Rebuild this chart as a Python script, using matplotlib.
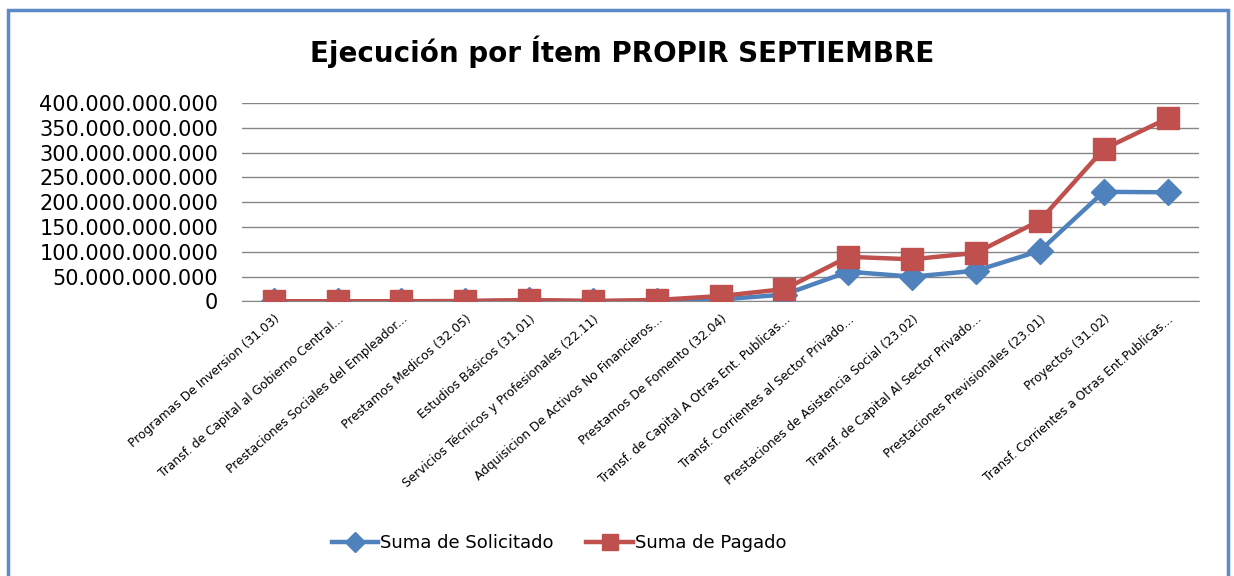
import numpy as np
import matplotlib.pyplot as plt
from matplotlib.lines import Line2D
from matplotlib.ticker import FuncFormatter

categorias = [
    "Programas De Inversion (31.03)",
    "Transf. de Capital al Gobierno Central...",
    "Prestaciones Sociales del Empleador...",
    "Prestamos Medicos (32.05)",
    "Estudios Básicos (31.01)",
    "Servicios Técnicos y Profesionales (22.11)",
    "Adquisicion De Activos No Financieros...",
    "Prestamos De Fomento (32.04)",
    "Transf. de Capital A Otras Ent. Publicas...",
    "Transf. Corrientes al Sector Privado...",
    "Prestaciones de Asistencia Social (23.02)",
    "Transf. de Capital Al Sector Privado...",
    "Prestaciones Previsionales (23.01)",
    "Proyectos (31.02)",
    "Transf. Corrientes a Otras Ent.Publicas...",
]
solicitado = [0.3e9, 0.3e9, 0.3e9, 0.5e9, 2e9, 0.5e9, 1.5e9, 4e9, 14e9,
              60e9, 50e9, 62e9, 102e9, 221e9, 220e9]
pagado = [0.5e9, 0.5e9, 0.5e9, 1e9, 3e9, 1e9, 3e9, 11e9, 25e9,
          90e9, 85e9, 98e9, 163e9, 307e9, 369e9]

azul = '#4F81BD'
rojo = '#C0504D'

fig = plt.figure(figsize=(12.34, 5.76), dpi=100)
ax = fig.add_axes([0.196, 0.4766, 0.776, 0.3446])

x = np.arange(len(categorias))
ax.plot(x, solicitado, color=azul, lw=3.2, marker='D', markersize=13,
        label='Suma de Solicitado', zorder=3)
ax.plot(x, pagado, color=rojo, lw=3.2, marker='s', markersize=16.5,
        label='Suma de Pagado', zorder=4)

ax.set_xlim(-0.5, len(categorias) - 0.5)
ax.set_ylim(0, 400e9)
ax.set_yticks(np.arange(0, 400e9 + 1, 50e9))
ax.yaxis.set_major_formatter(FuncFormatter(lambda v, p: f"{int(v):,}".replace(',', '.')))
ax.tick_params(axis='y', length=0, labelsize=15, pad=17)
ax.grid(axis='y', color='#868686', lw=1)
ax.set_axisbelow(True)
for s in ['left', 'right', 'top']:
    ax.spines[s].set_visible(False)
ax.spines['bottom'].set_color('#868686')

ax.set_xticks(x)
ax.set_xticklabels(categorias, rotation=41, ha='right', rotation_mode='anchor',
                   fontsize=8.8)
ax.tick_params(axis='x', length=0, pad=8)

fig.text(0.504, 0.91, 'Ejecución por Ítem PROPIR SEPTIEMBRE', ha='center',
         va='center', fontsize=20, fontweight='bold')

handles = [
    Line2D([], [], color=azul, lw=3.2, marker='D', markersize=10),
    Line2D([], [], color=rojo, lw=3.2, marker='s', markersize=11),
]
fig.legend(handles, ['Suma de Solicitado', 'Suma de Pagado'], loc='center',
           bbox_to_anchor=(0.453, 0.057), ncol=2, frameon=False, fontsize=13,
           handlelength=2.6, handletextpad=0.1, columnspacing=1.8)

# marco del grafico
marco = plt.Rectangle((8 / 1234, -0.05), 1220 / 1234, 1.05 - 10 / 576,
                      transform=fig.transFigure, fill=False,
                      edgecolor='#5B8BC9', lw=2.5)
fig.patches.append(marco)

fig.savefig('out.png', dpi=100)
